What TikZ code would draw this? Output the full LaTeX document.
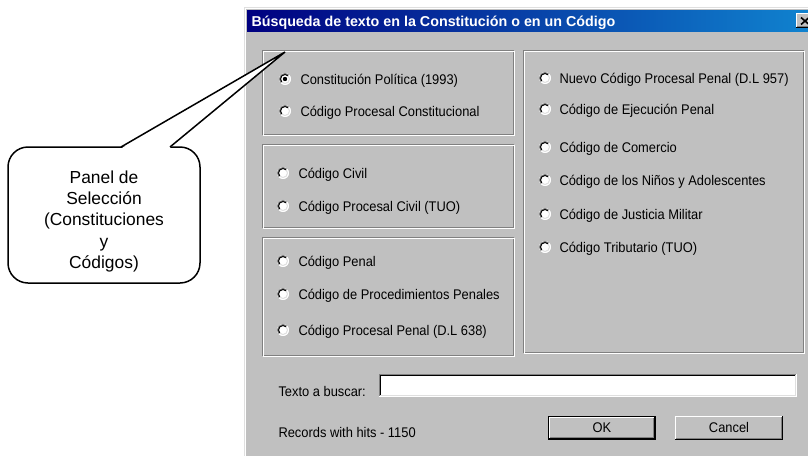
\documentclass[tikz,border=0pt]{standalone}
\usepackage{fontspec}
\setmainfont{Liberation Sans}
\newfontfamily\uifont[FakeStretch=0.92]{Liberation Sans}
\definecolor{winbg}{HTML}{C0C0C0}
\definecolor{navy}{HTML}{000080}
\definecolor{tblue}{HTML}{1084D0}
\definecolor{tmid}{HTML}{07248C}
\definecolor{dgray}{HTML}{808080}
\definecolor{lgray}{HTML}{DFDFDF}
\tikzset{
  uitext/.style={font=\uifont\fontsize{14}{16}\selectfont, inner sep=0pt, anchor=base west},
  titletext/.style={font=\rmfamily\bfseries\fontsize{14.3}{16}\selectfont, inner sep=0pt, anchor=base west, text=white},
  btntext/.style={font=\uifont\fontsize{14}{16}\selectfont, inner sep=0pt, anchor=base},
  callouttext/.style={font=\fontsize{17.4}{21.25}\selectfont, inner sep=0pt, align=center, anchor=north},
  radiobtn/.pic={
    \fill[white] (0,0) circle[radius=6pt];
    \draw[dgray] (45:5.5pt) arc[start angle=45,end angle=225,radius=5.5pt];
    \draw[black] (45:4.5pt) arc[start angle=45,end angle=225,radius=4.5pt];
    \draw[white] (225:5.5pt) arc[start angle=225,end angle=405,radius=5.5pt];
    \draw[lgray] (225:4.5pt) arc[start angle=225,end angle=405,radius=4.5pt];
  },
  radiodot/.pic={\fill[black] (0,0) circle[radius=2.2pt];}
}
\newcommand\radioitem[5]{\pic at (#2,#3) {radiobtn}; \node[uitext] (#1) at (#4,#3+5) {#5};}
\newcommand\etchedbox[4]{%
  \draw[dgray] (#1+0.5,#2+0.5) rectangle (#3-0.5,#4-0.5);
  \draw[white] (#1+1.5,#2+1.5) rectangle (#3+0.5,#4+0.5);}
\newcommand\winraised[4]{%
  \fill[winbg] (#1,#2) rectangle (#3,#4);
  \draw[white] (#1+0.5,#4-1) -- (#1+0.5,#2+0.5) -- (#3-1,#2+0.5);
  \draw[black] (#1,#4-0.5) -- (#3-0.5,#4-0.5) -- (#3-0.5,#2);
  \draw[dgray] (#1+1,#4-1.5) -- (#3-1.5,#4-1.5) -- (#3-1.5,#2+1);}
\begin{document}
\begin{tikzpicture}[x=1pt,y=-1pt,line width=1pt]
\useasboundingbox (0,0) rectangle (808,455);
\clip (0,0) rectangle (808,455);
\fill[white] (0,0) rectangle (808,455);
% window
\fill[winbg] (244,7) rectangle (815,460);
\draw[lgray] (244.5,460) -- (244.5,7.5) -- (815,7.5);
\draw[white] (245.5,460) -- (245.5,8.5) -- (815,8.5);
% title bar
\shade[left color=navy, middle color=tmid, right color=tblue] (247,10) rectangle (815,31);
\node[titletext] (title) at (251,26) {Búsqueda de texto en la Constitución o en un Código};
\winraised{796}{13}{814}{28}
\draw[black, line width=1.6pt] (801,17.5) -- (809,24.5) (809,17.5) -- (801,24.5);
% group boxes
\etchedbox{262}{50}{514}{135}
\etchedbox{262}{144}{514}{228}
\etchedbox{262}{237}{514}{356}
\etchedbox{523}{50}{804}{353}
% panel 1
\radioitem{cpol}{285}{79}{300}{Constitución Política (1993)}
\pic at (285,79) {radiodot};
\radioitem{cpconst}{285}{111}{300}{Código Procesal Constitucional}
% panel 2
\radioitem{ccivil}{283}{173}{298}{Código Civil}
\radioitem{cpcivil}{283}{206}{298}{Código Procesal Civil (TUO)}
% panel 3
\radioitem{cpenal}{283}{261}{298}{Código Penal}
\radioitem{cproc}{283}{294}{298}{Código de Procedimientos Penales}
\radioitem{cppenal}{283}{330}{298}{Código Procesal Penal (D.L 638)}
% right panel
\radioitem{ncpp}{545}{78}{559}{Nuevo Código Procesal Penal (D.L 957)}
\radioitem{cejec}{545}{109}{559}{Código de Ejecución Penal}
\radioitem{ccom}{545}{147}{559}{Código de Comercio}
\radioitem{cnin}{545}{180}{559}{Código de los Niños y Adolescentes}
\radioitem{cjust}{545}{214}{559}{Código de Justicia Militar}
\radioitem{ctrib}{545}{247}{559}{Código Tributario (TUO)}
% search field
\node[uitext] (lblbuscar) at (278,396) {Texto a buscar:};
\fill[white] (379,374) rectangle (797,397);
\draw[dgray] (379.5,397) -- (379.5,374.5) -- (797,374.5);
\draw[black] (380.5,396) -- (380.5,375.5) -- (796,375.5);
\draw[white] (379,396.5) -- (796.5,396.5) -- (796.5,374);
\draw[lgray] (380,395.5) -- (795.5,395.5) -- (795.5,375);
\node[uitext] (records) at (278,437) {Records with hits - 1150};
% buttons
\fill[black] (548,416) rectangle (656,440);
\winraised{549}{417}{655}{439}
\node[btntext] (ok) at (602,432) {OK};
\winraised{675}{416}{783}{440}
\node[btntext] (cancel) at (729,432) {Cancel};
% callout
\draw[line width=1.5pt, fill=white, rounded corners=20pt] (8,147) rectangle (200,283);
\fill[white] (121.5,148.2) -- (285,52) -- (169.5,148.2) -- cycle;
\draw[line width=1.5pt] (121,147) -- (285,52) -- (170,147);
\node[callouttext] (callout) at (104,170.3) {Panel de\\Selección\\(Constituciones\\y\\Códigos)};
\end{tikzpicture}
\end{document}
